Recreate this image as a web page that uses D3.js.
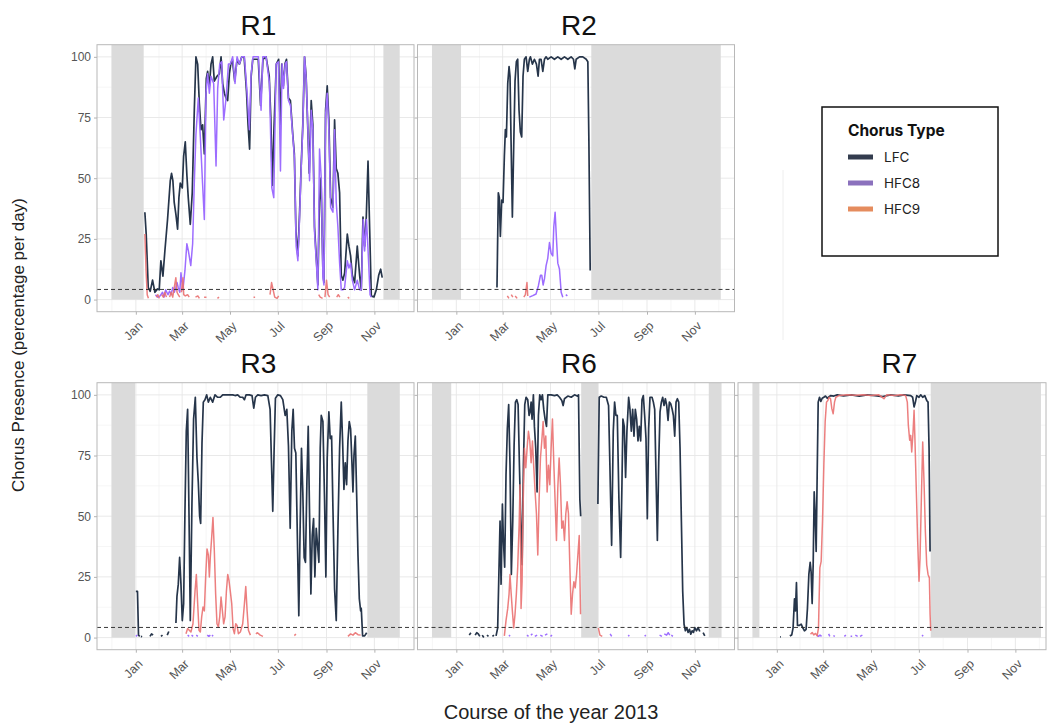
<!DOCTYPE html>
<html>
<head>
<meta charset="utf-8">
<script src="https://cdn.jsdelivr.net/npm/d3@7"></script>
<style>
  body { margin: 0; background: #fff; }
  svg text { font-family: "Liberation Sans", Arial, sans-serif; }
</style>
</head>
<body>
<div id="chart"></div>
<script>
// values are [day of 2013 (Jan 1 = 0), percentage]; null breaks a line
const panelNames = ["R1", "R2", "R3", "R6", "R7"];
const seriesNames = ["LFC", "HFC8", "HFC9"];
const yTicks = [0, 25, 50, 75, 100];
const monthTicks = [0, 2, 4, 6, 8, 10]; // Jan, Mar, May, Jul, Sep, Nov
const hourThreshold = 100 / 24;

// no-recording periods [from, to] in days of 2013
const r1Gaps = [[-31, 10], [315.5, 336.3]];
const r2Gaps = [[-31, 6], [172, 337]];
const r3Gaps = [[-31, -1], [295, 336.4]];
const r6Gaps = [[-31, -6.5], [159.1, 180.5], [321.7, 338]];
const r7Gaps = [[-31, -22.2], [196.1, 336.6]];

const r1LFC = [[11.5,36],[13.2,27],[15.8,5],[18.3,3.4],[21.3,8],[24.3,3],[27.7,4.4],[29.8,4],[31.9,16],[34.5,9.6],[37,20],[40.4,33],[43.9,49],[45.5,52],[47.2,49],[48.9,40],[51.1,35],[53.2,29],[54.9,42],[56.6,48],[59.2,46],[60.9,59],[63,65],[65.1,51],[66.8,42],[69.4,31],[71.9,44],[74.5,78],[76.6,100],[78.8,97],[80.9,81],[83,70],[85.1,72],[87.3,60],[89.8,91],[91.5,94],[93.7,88],[95.8,97],[97.9,100],[100,90],[103.4,92],[106.4,93],[108.6,100],[110.7,89],[112.8,85],[115,83],[117,82],[119.2,93],[121,97],[123,99],[126,90],[129,99],[132,97],[135,100],[138,100],[141,86],[143,72],[145,62],[147,92],[149,99],[153,99],[156,99],[159,80],[162,99],[166,100],[170,92],[172,75],[174,47],[176,70],[179,97],[182,99],[184,70],[186,97],[188,88],[190,97],[192,99],[194.5,83],[197,82],[200,68],[202,60],[204,28],[206.5,18],[208.6,35],[210.7,55],[212.8,72],[215,100],[217,92],[219,72],[221,52],[223.5,82],[225.6,72],[227.7,30],[230,17],[232,6],[234,40],[236,50],[238.4,12],[239.7,7],[241.8,78],[243.9,88],[246,74],[248.2,42],[251.2,38],[253.3,74],[255.4,54],[257.5,52],[259.7,44],[261.8,10],[263.9,8],[266.1,11],[269.5,27],[271.6,22],[273.7,18],[275.9,10],[278.8,7],[282.2,22],[285.2,10],[287.3,4],[289.5,34],[291.6,22],[293.7,34],[295.9,57],[298,29],[300.1,1.4],[303.5,1.1],[306.5,4],[309.5,10],[312,12.5],[314,9]];
const r1HFC8 = [[25,2],[28,1],[31,1.5],[34,3],[36,1],[38,4],[41,2],[43,3.5],[45,2],[47,5],[49,3],[51,5],[52.5,7],[54,5],[56,3],[57.5,11],[60,4],[62.6,12],[65,23],[67,20],[70,14],[72.4,23],[74.5,48],[76.6,68],[79.6,83],[82.2,67],[85,48],[87.3,33],[89.4,85],[91.5,93],[93.7,85],[95.8,92],[99.2,89],[100.9,70],[102.2,55],[104.3,87],[106.9,97],[109.4,98],[112,74],[115,83],[118,97],[120.5,97],[123.4,100],[126.4,89],[129,100],[132,97],[135,100],[138.4,100],[141.8,85],[144.7,70],[146.9,93],[149.4,100],[153.3,100],[156.2,100],[159.6,78],[161.8,100],[166,100],[170.3,89],[173.3,46],[175.8,42],[178.8,97],[181.8,98],[184.3,53],[186.4,97],[188.2,87],[190.3,97],[192,98],[194.5,82],[197.1,80],[200.1,67],[202.2,58],[204.3,22],[206.5,16],[208.6,33],[210.7,54],[212.8,71],[215,100],[217.1,91],[219.2,71],[221.4,49],[223.5,78],[225.6,70],[227.7,28],[229.9,16],[232,4],[234.1,62],[236.3,50],[238.4,9],[239.7,6],[241.8,76],[243.9,85],[246,70],[248.2,38],[251.2,36],[253.3,70],[255.4,40],[257.5,30],[259.7,15],[261.8,4],[263.9,4],[266.1,5],[269.5,16],[271.6,13],[273.7,15],[275.9,8],[278.8,4],[282.2,8],[285.2,4],[287.3,4],[289.8,33],[291.6,20],[294,33],[296,20],[298.5,2],[300,1]];
const r1HFC9 = [[11.5,27],[13,12],[14.5,2],[16,0.5],null,[26,1],[28,2],[30,0.5],null,[33,2],[35,1],[37,3],[39,1],null,[43,1],[45,3],[47,1],[49,5],[51,9],[52.5,3],[54,2],[56,1],null,[58,3],[60,9],[61,2],[63,1.5],[66,2],[68,1],null,[76,1],[79,1.5],[81,0.5],null,[87,1],[90,1],null,[104,0.5],[106,1],null,[150,1],[152,1],null,[171,2],[173,7],[175,4],[177,1],[180,0.5],[182,1.5],null,[233,2],[235,1],[238,0.5],null,[241,1],[243,8],[245,2],[247,1],null,[256,1],[258,2],[260,1],null,[270,1],[272,0.5]];

const r2LFC = [[51.8,5],[53.5,44],[54.8,42],[56.1,26],[57.8,41],[59.5,40],[61.2,59],[62.5,70],[63.8,67],[65.5,89],[67.2,96],[68.4,92],[69.7,66],[71.4,34],[73.1,63],[74.8,90],[76.5,98],[78.2,99],[79.9,78],[81.6,69],[83.3,67],[85,92],[86.7,99],[88.9,100],[91,94],[93.1,99],[94.4,100],[96.9,97],[99.5,99],[102.1,97],[104.2,92],[105.9,99],[108,99],[110.2,94],[112.3,99],[114.4,100],[116.5,99],[120.8,100],[125,99],[129.3,100],[133.6,99],[137.8,100],[142.1,99],[146.3,100],[149.3,99],[151,95],[152.7,99],[157,100],[161.2,100],[165.5,99],[167.6,98],[168.9,66],[170.6,12]];
const r2HFC8 = [[93,1],[97.4,1.6],[101.6,2.3],[104.6,5.7],[107.2,10],[108.9,10],[110.6,6],[112.3,8.5],[114.4,14],[116.5,17],[118.7,23.5],[120.8,19],[122.9,18],[124.2,30],[125.9,36],[127.6,25],[129.3,15],[131.4,12.6],[133.6,3],[135.7,1],null,[139.5,2],[141.5,1.5]];
const r2HFC9 = [[65,1.5],[67,0.5],null,[70,2],[72,1],null,[75,1.5],[77.5,0.5],null,[86,1],[88,2],[90,7],[91,1.5]];

const r3LFC = [[0,19],[2.1,19],[3.4,1],[5,0.5],null,[6.5,0.5],[8,0.3],null,[18,0.5],[20,1.5],[22,1],null,[32,0.5],[34,1],null,[40,1],[42,2.5],null,[51.1,6],[52.4,17],[54.1,22],[55.8,33],[57.5,22],[59.2,7],[60.9,14],[62.6,52],[64.3,85],[66,94],[67.7,52],[69.4,7],[71.5,55],[73.6,90],[75.8,99],[77.9,74],[79.6,64],[81.3,50],[82.6,47],[84.3,80],[86,97],[88.1,98],[90.3,100],[92.4,97],[94.9,99],[97.9,97],[100.9,100],[104.3,99],[107.7,99],[110.7,100],[114.9,100],[119.2,100],[123.5,100],[126.4,99.7],[129.8,100],[133.2,99],[136.2,99],[138.4,98],[140.5,100],[144.7,100],[148.1,99.7],[150.3,94.5],[152.4,99],[155.4,100],[159.6,99.7],[163.9,100],[168.2,99.7],[171.1,94],[172.8,73],[174.5,52],[176.2,77],[177.9,98.6],[180.9,100],[184.3,99.7],[187.3,98],[190.3,91.5],[192.4,94],[194.5,79],[196.7,45],[198.8,85],[200.5,94],[202.2,78],[203.9,76],[205.6,46],[207.7,9],[209.4,46],[211.1,78],[212.8,60],[214.5,33],[216.2,31],[218,64],[219.7,87],[221.4,51],[223.1,18],[224.8,42],[226.5,49],[228.2,25],[229.9,45],[231.6,38],[233.3,31],[235,78],[236.3,91.5],[238.4,89],[240.5,57],[242.2,25],[243.9,74],[246,93],[247.7,82],[249.5,83],[251.2,53],[253.3,20],[255.4,7],[257.5,44],[259.7,78],[261.8,97],[263.5,81],[265.2,61],[266.9,72],[268.6,63],[270.3,81],[272,89],[273.7,86],[275.4,72],[276.7,60],[278,75],[279.7,83],[281.4,59],[283.1,34],[284.8,16],[286.5,11],[287.3,12],[289,0.7],[291.6,0.7],[294.2,2]];
const r3HFC8 = [[0,0.5],[2,1],null,[66,1],[68,0.5],null,[71,1],[73,0.5],null,[77,1],[79,0.5],null,[91,1],[93,0.5],[95,1],null,[97,0.5],[98.5,1]];
const r3HFC9 = [[63.9,1.6],[66,3.7],[68.1,3],[70.2,2.3],[72.8,5.7],[75.4,19],[77.1,26],[78.8,14],[80.5,3],[82.2,2.3],[83.9,8.5],[85.6,12.6],[87.3,11],[89,25],[90.7,36.5],[92.4,34],[93.7,25],[94.9,33],[96.6,41],[98.3,49.5],[100,36],[101.7,18],[103.4,5.7],[105.2,4.4],[106.9,8.5],[108.6,16.7],[110.3,11],[111.9,5.7],[113.7,8.5],[115.4,19],[117.1,26],[118.7,23.5],[120.4,19],[122.2,14],[123.9,3.7],[125.6,1.6],[127.3,5.7],[129,5],[130.7,1.6],[133.2,2.3],[136.2,5.7],[138.4,14],[140.1,21],[141.8,11],[143.5,3],[146,1],null,[153,1.5],[155,2],[158.5,1],[162,0.5],null,[202,0.8],[204,1.5],null,[270.3,0.5],[273.7,1.5],[276.7,1],[279.7,2],[283.1,1.2],[286.5,1]];

const r6LFC = [[16.5,1],[18.5,2],null,[24,1],[26,2],[28,1.5],[30,0.5],null,[33,1],[35,0],null,[39,1],[41,0.5],null,[46,0.5],[48,1],null,[50.6,0.7],[52.7,4],[54,23],[55.7,48],[57,22],[58.7,55],[60,40],[61.6,29],[63.3,67],[65,86],[66.7,96],[68.4,71],[70.1,26],[71.9,48],[73.6,79],[75.3,97],[77,98],[78.7,96],[80.4,71],[82.1,48],[83.8,30],[85.5,71],[87.2,96],[88.9,99],[91,98],[92.7,91.5],[94,93],[95.3,97],[96.5,90],[98.2,100],[99.5,87],[101.2,78],[102.9,60],[104.6,91.5],[106.3,100],[108,98],[109.7,100],[111.4,94],[113.1,90],[114.9,87],[116.6,100],[120.8,100],[125.1,99.7],[128.5,100],[131.5,99],[134.4,97.7],[136.1,95.6],[137.8,98.4],[142.1,99.5],[146.4,99],[150.6,100],[154,99.5],[155.7,100],[157.4,57],[158.5,50],null,[180.4,55],[182.1,99],[184.7,99.5],[188.1,99],[191.1,99],[194,95.6],[195.7,71],[197.9,38],[200,85],[201.7,97],[203.4,91.5],[205.1,91.5],[207.2,57],[209.4,33],[211.1,64],[212.3,90],[214,87],[215.7,66],[217.4,85],[219.6,99],[221.3,94],[223,85],[224.7,94],[226.4,83],[228.1,94],[229.8,90],[231.5,81],[233.2,87],[234.9,81],[236.6,98],[238.3,99.7],[240,91.5],[241.7,82],[243.4,49],[245.1,86],[246.8,99],[249.4,99],[251.1,97],[252.8,94],[254.5,66],[256.2,40],[257.9,72],[259.6,93],[261.3,97],[263,99],[264.7,95.6],[266.4,98.4],[268.1,95.6],[269.8,89.5],[271.5,97],[273.2,96.3],[274.9,94.3],[276.6,91.5],[278.3,83],[280,97],[281.7,98.4],[283.4,97],[285.1,78],[286.8,48],[288.5,19],[290.2,5.5],[291.9,2.8],[293.7,4.1],[295.4,2.1],[297.1,3.4],[298.8,1.4],[300.5,2.8],[302.2,2.1],[303.9,4.1],[306,2.8],[308.1,4.1],[310.3,2.5],null,[314.5,2],[316.6,0.7]];
const r6HFC8 = [[67,0.5],[68.5,1],null,[90,1],[92,0.5],null,[95,1],[97,1.5],null,[100,0.5],[103,1],null,[107,1],[110,0.5],null,[113,1],[116,1.5],null,[120,0.5],[122,1],null,[196,1.5],[198,0.5],null,[219,0.5],[220.5,1],null,[240,0.5],[241.5,1],null,[259,1],[262,0.5],null,[265,1.5],[268,1],[270,2],[272,1],null,[274,1],[276,0.5]];
const r6HFC9 = [[61.2,0.7],[63.3,7],[65.5,12],[67.2,18],[68.4,26],[69.7,19],[71.4,11],[73.1,4],[74.8,9.6],[76.5,18],[78.2,29],[80,46.5],[81.2,63],[82.5,12],[83.8,23],[85,53],[86.8,78],[88.5,70],[90.2,78],[91.9,85],[93.6,81],[95.3,72],[97,81],[98.7,70],[100.4,60],[102.1,51],[103.8,34],[105.5,57],[107.2,74],[108.9,81],[110.6,89],[112.3,78],[114,83],[115.7,60],[117.4,71],[119.1,63],[120.8,78],[122.5,90],[124.2,72],[125.9,56],[127.6,40],[129.3,61.5],[131,74],[132.7,63],[134.4,45],[136.1,48],[137.8,40],[139.5,51],[141.2,56],[142.9,51],[144.6,30],[146.4,9.6],[148.1,18],[149.8,23],[151.5,20.5],[153.2,26],[154.9,34],[156.6,42],[158.3,9.6],null,[181,4],[183,1],[186,0.5]];

const r7LFC = [[4,0.3],[5,0.3],null,[16.5,0.7],[19,1.1],[20.7,4],[22.5,16],[23.7,11],[25,22.6],[26.3,5],[28.4,5],[31,5.5],[33.1,4],[35.2,2.8],[37.3,3.4],[39,12],[40.8,26],[42.5,31],[43.7,27],[45,14],[46.3,30],[47.6,60],[48.8,51],[50.1,35.5],[51.4,67],[52.7,97],[54.4,99],[56.1,97.3],[57.8,98.6],[59.9,99],[62,99.5],[64.2,98.6],[68.4,99.7],[72.7,99.5],[77,100],[85,99.6],[95,100],[105,99.5],[115,100],[125,99.7],[135,99.3],[145,100],[155,99.6],[162,100],[170.6,99.7],[173.1,99],[174.9,95],[176.6,97],[178.3,99.7],[181.2,99],[183.4,100],[185.9,99],[188.5,99.7],[191,97.7],[192.7,97],[194,78],[195.3,35.5]];
const r7HFC8 = [[51,1],[53,0.5],[55,1],[57,0.5],null,[66,1.5],[67.5,0.5],null,[72,0.8],[74,0.5],null,[86,0.5],[88,1],null,[94,0.5],[96,0.5],null,[100,1],[103,0.5],null,[106,0.5],[109,1],null,[185,0.5],[186.5,1]];
const r7HFC9 = [[42.9,1.4],[45,2.1],[47.1,1.1],[49.3,1.7],[51.4,0.7],[53.1,4],[54.8,28.7],[56.5,31.4],[58.2,48],[59.9,71],[61.6,89],[63.3,97],[65,97.7],[66.7,99],[68.4,98.4],[70.1,94.3],[71.8,92.2],[73.5,97],[75.2,99],[79.1,99.7],[90,100],[100,99.8],[110,100],[120,99.7],[130,100],[136.5,98.4],[140,100],[150,99.7],[158,100],[164.2,99.7],[166.3,97],[167.6,87.4],[169.3,81.3],[170.6,83.3],[171.9,76.5],[173.6,84.7],[174.9,93.6],[176.1,80.6],[177.8,60],[179.5,39.6],[181.2,23.2],[182.5,32.8],[184.2,57.4],[185.9,80.6],[187.6,64],[189.3,43.7],[191,30],[192.7,26],[194.4,24.6],[195.3,9.6],[196.1,2.8]];

const panelData = [
  { name: "R1", col: 0, row: 0, gaps: r1Gaps, series: [r1LFC, r1HFC8, r1HFC9] },
  { name: "R2", col: 1, row: 0, gaps: r2Gaps, series: [r2LFC, r2HFC8, r2HFC9] },
  { name: "R3", col: 0, row: 1, gaps: r3Gaps, series: [r3LFC, r3HFC8, r3HFC9] },
  { name: "R6", col: 1, row: 1, gaps: r6Gaps, series: [r6LFC, r6HFC8, r6HFC9] },
  { name: "R7", col: 2, row: 1, gaps: r7Gaps, series: [r7LFC, r7HFC8, r7HFC9] }
];

const lineColors = ["#26354a", "#9d6dff", "#ea7171"];
const legendColors = ["#333c4e", "#8b71bd", "#e58c5e"];

const width = 1047, height = 724;
const panelW = 317, panelH = 267;
const colX = [97, 417.5, 738];
const rowY = [44.7, 382.7];
const rightEdge = 1046;

const svg = d3.select("#chart")
  .append("svg")
  .attr("width", width)
  .attr("height", height);

const day0 = new Date(2013, 0, 1).getTime();
const toDate = d => new Date(day0 + d * 864e5);

const x = d3.scaleTime()
  .domain([toDate(-49.5), toDate(354.5)])
  .range([0, panelW]);
const y = d3.scaleLinear()
  .domain([-5, 105])
  .range([panelH, 0]);

const tickDates = monthTicks.map(m => new Date(2013, m, 1));
// minor breaks halfway between the major ones, ggplot style
const majorExt = [new Date(2012, 10, 1), ...tickDates, new Date(2014, 0, 1)];
const minorDates = d3.pairs(majorExt).map(([a, b]) => new Date((a.getTime() + b.getTime()) / 2));
const minorY = d3.pairs([-25, ...yTicks, 125]).map(([a, b]) => (a + b) / 2);

const line = d3.line()
  .defined(d => d !== null)
  .x(d => x(toDate(d[0])))
  .y(d => y(d[1]));

panelData.forEach((p, i) => {
  const left = colX[p.col], top = rowY[p.row];
  const visW = Math.min(panelW, rightEdge - left);
  const g = svg.append("g").attr("transform", `translate(${left},${top})`);

  const clipId = "clip" + i;
  g.append("clipPath").attr("id", clipId)
    .append("rect").attr("width", visW).attr("height", panelH);
  const body = g.append("g").attr("clip-path", `url(#${clipId})`);

  body.append("rect").attr("width", visW).attr("height", panelH).attr("fill", "#fff");

  // grid
  body.selectAll(".vminor").data(minorDates.filter(d => x(d) > 0 && x(d) < panelW)).enter()
    .append("line")
    .attr("x1", d => x(d)).attr("x2", d => x(d))
    .attr("y1", 0).attr("y2", panelH)
    .attr("stroke", "#f0f0f0").attr("stroke-width", 0.6);
  body.selectAll(".hminor").data(minorY.filter(v => v > -5 && v < 105)).enter()
    .append("line")
    .attr("x1", 0).attr("x2", visW)
    .attr("y1", d => y(d)).attr("y2", d => y(d))
    .attr("stroke", "#f0f0f0").attr("stroke-width", 0.6);
  body.selectAll(".vmajor").data(tickDates).enter()
    .append("line")
    .attr("x1", d => x(d)).attr("x2", d => x(d))
    .attr("y1", 0).attr("y2", panelH)
    .attr("stroke", "#e6e6e6").attr("stroke-width", 0.9);
  body.selectAll(".hmajor").data(yTicks).enter()
    .append("line")
    .attr("x1", 0).attr("x2", visW)
    .attr("y1", d => y(d)).attr("y2", d => y(d))
    .attr("stroke", "#e6e6e6").attr("stroke-width", 0.9);

  // periods without recordings
  body.selectAll(".gap").data(p.gaps).enter()
    .append("rect")
    .attr("x", d => x(toDate(d[0])))
    .attr("width", d => x(toDate(d[1])) - x(toDate(d[0])))
    .attr("y", 0)
    .attr("height", y(0))
    .attr("fill", "#dbdbdb");

  // chorus lines
  p.series.forEach((s, k) => {
    body.append("path")
      .datum(s)
      .attr("fill", "none")
      .attr("stroke", lineColors[k])
      .attr("stroke-width", k === 0 ? 1.7 : 1.5)
      .attr("stroke-linejoin", "round")
      .attr("opacity", k === 2 ? 0.9 : 1)
      .attr("d", line);
  });

  // one hour per day
  body.append("line")
    .attr("x1", 0).attr("x2", visW)
    .attr("y1", y(hourThreshold)).attr("y2", y(hourThreshold))
    .attr("stroke", "#222")
    .attr("stroke-width", 0.9)
    .attr("stroke-dasharray", "4,3");

  g.append("rect")
    .attr("width", visW).attr("height", panelH)
    .attr("fill", "none")
    .attr("stroke", "#b8b8b8")
    .attr("stroke-width", 1);

  // axes
  const xAxis = d3.axisBottom(x)
    .tickValues(tickDates)
    .tickFormat(d3.timeFormat("%b"))
    .tickSize(3)
    .tickPadding(2);
  const xg = g.append("g")
    .attr("class", "x axis")
    .attr("transform", `translate(0,${panelH})`)
    .call(xAxis);
  xg.select(".domain").remove();
  xg.selectAll(".tick line").attr("stroke", "#b3b3b3");
  xg.selectAll(".tick text")
    .attr("fill", "#555")
    .attr("font-size", 12.5)
    .attr("text-anchor", "end")
    .attr("dy", null)
    .attr("y", null)
    .attr("transform", "translate(7,15) rotate(-45)");

  const yAxis = d3.axisLeft(y)
    .tickValues(yTicks)
    .tickSize(3)
    .tickPadding(3)
    .tickFormat(p.col === 0 ? d3.format("d") : "");
  const yg = g.append("g").attr("class", "y axis").call(yAxis);
  yg.select(".domain").remove();
  yg.selectAll(".tick line").attr("stroke", "#b3b3b3");
  yg.selectAll(".tick text").attr("fill", "#555").attr("font-size", 12);

  // facet title
  svg.append("text")
    .attr("x", left + panelW / 2 + 3)
    .attr("y", top - 10)
    .attr("text-anchor", "middle")
    .attr("font-size", 28)
    .attr("fill", "#111")
    .text(p.name);
});

svg.append("text")
  .attr("transform", "translate(24,345) rotate(-90)")
  .attr("text-anchor", "middle")
  .attr("font-size", 17)
  .attr("fill", "#222")
  .text("Chorus Presence (percentage per day)");

svg.append("text")
  .attr("x", 551)
  .attr("y", 719)
  .attr("text-anchor", "middle")
  .attr("font-size", 20)
  .attr("fill", "#222")
  .text("Course of the year 2013");

// faint stray rule seen next to the legend
svg.append("line")
  .attr("x1", 783).attr("x2", 783)
  .attr("y1", 170).attr("y2", 340)
  .attr("stroke", "#eeeeee");

// legend
const legend = svg.append("g").attr("transform", "translate(822,107)");
legend.append("rect")
  .attr("width", 176).attr("height", 149)
  .attr("fill", "#fff")
  .attr("stroke", "#111")
  .attr("stroke-width", 1.5);
legend.append("text")
  .attr("x", 26).attr("y", 29)
  .attr("font-size", 15.5)
  .attr("font-weight", "bold")
  .style("font-family", "Inter, 'Liberation Sans', sans-serif")
  .attr("fill", "#111")
  .text("Chorus Type");
const items = legend.selectAll(".item")
  .data(seriesNames)
  .enter()
  .append("g")
  .attr("class", "item")
  .attr("transform", (d, i) => `translate(26,${50 + i * 26})`);
items.append("line")
  .attr("x1", 0).attr("x2", 25)
  .attr("stroke", (d, i) => legendColors[i])
  .attr("stroke-width", 5);
items.append("text")
  .attr("x", 36).attr("y", 5)
  .attr("font-size", 13.5)
  .style("font-family", "Inter, 'Liberation Sans', sans-serif")
  .attr("fill", "#222")
  .text(d => d);
</script>
</body>
</html>
